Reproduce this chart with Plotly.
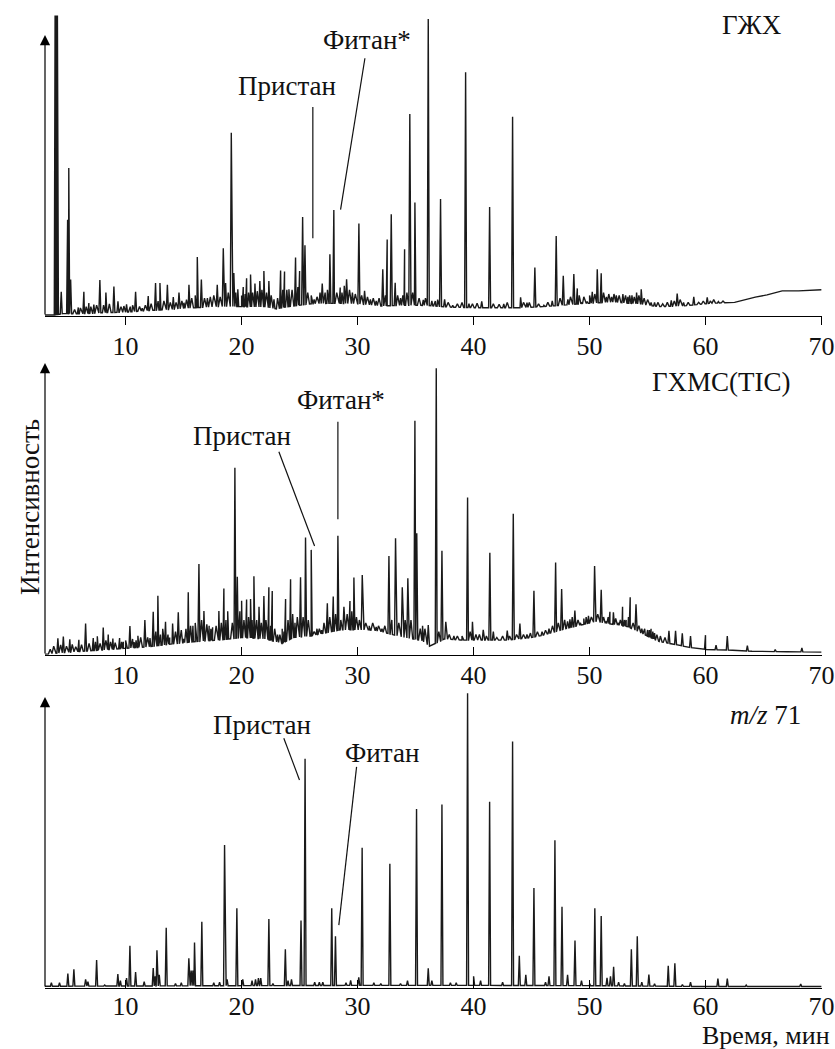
import numpy as np
import plotly.graph_objects as go

# ---------------- DATA ----------------
tick_vals = [10, 20, 30, 40, 50, 60, 70]

# Panel 1: ГЖХ  -- peak retention times (min) and apex intensities (rel. units, arrow top = 100)
p1_peak_t = [3.92, 4.02, 4.12, 4.45, 5.0, 5.1, 5.26, 5.92, 6.4, 6.83, 7.26, 7.78, 8.3, 8.99, 9.34,
             10.08, 10.86, 11.43, 11.95, 12.58, 12.96, 13.6, 14.11, 14.6, 15.03, 15.46, 16.18, 16.53,
             17.05, 17.9, 18.42, 18.62, 19.11, 19.33, 19.67, 20.14, 20.43, 20.77, 21.15, 21.57, 21.92,
             22.35, 22.79, 23.36, 23.7, 24.08, 24.65, 25.0, 25.26, 25.46, 26.25, 26.76, 26.95, 27.61,
             27.95, 28.5, 28.85, 29.05, 29.55, 30.11, 30.6, 31.1, 31.6, 32.17, 32.55, 32.9, 33.24, 33.7,
             34.05, 34.5, 34.94, 35.66, 36.09, 36.4, 37.15, 37.5, 38.2, 39.31, 39.6, 40.7, 41.38, 42.6,
             43.36, 44.05, 44.6, 45.28, 46.06, 46.78, 47.12, 47.73, 48.13, 48.64, 48.94, 49.3, 49.8,
             50.23, 50.66, 51.0, 51.45, 51.9, 52.3, 52.87, 53.3, 53.65, 54.05, 54.45, 55.3, 55.6, 57.04,
             57.55, 58.1, 58.98, 60.14, 60.4, 61.1, 64.2]
p1_peak_h = [107, 107, 107, 8.3, 34, 52.5, 12.7, 2.7, 8.3, 4.3, 3.7, 12.5, 8.0, 10.2, 4.9,
             3.8, 8.3, 2.4, 6.8, 11.4, 11.4, 10.8, 6.4, 8.0, 4.4, 10.8, 20.7, 12.7,
             6.0, 10.8, 23.8, 11.4, 65.1, 15.0, 9.2, 10.0, 13.1, 14.5, 11.2, 12.1, 15.7,
             12.1, 5.6, 15.9, 15.5, 9.2, 20.5, 15.7, 35.0, 24.9, 5.6, 8.0, 11.2, 21.7,
             37.5, 9.8, 10.4, 12.8, 8.0, 32.7, 8.6, 5.6, 5.0, 16.3, 27.0, 36.0, 11.5, 6.0,
             23.5, 71.8, 40.2, 5.4, 105.7, 5.0, 41.4, 5.6, 3.5, 86.7, 4.0, 4.9, 38.6, 4.0,
             70.8, 6.3, 4.4, 17.0, 3.5, 5.0, 28.2, 14.0, 5.6, 14.6, 9.5, 4.5, 4.8,
             8.3, 16.3, 14.9, 6.5, 6.5, 7.0, 7.5, 6.5, 7.0, 8.0, 9.2, 4.5, 4.5, 5.2,
             7.7, 4.5, 6.5, 6.3, 5.0, 4.8, 6.3]
# small unresolved peaks ("grass") of panel 1
p1_grass_t = [5.6, 6.1, 6.6, 7.0, 7.5, 8.1, 8.6, 9.6, 9.85, 10.4, 10.6, 11.2, 11.7, 12.2, 12.8, 13.3,
              13.85, 14.35, 14.85, 15.25, 15.7, 16.0, 16.8, 17.3, 17.6, 18.15, 18.85, 19.5, 20.0, 20.3,
              20.6, 20.95, 21.35, 21.75, 22.15, 22.55, 23.1, 23.55, 23.9, 24.35, 24.85, 25.7, 26.0, 26.5,
              27.2, 27.4, 28.2, 28.65, 29.3, 29.8, 30.35, 30.85, 31.35, 31.85, 32.4, 33.45, 33.9, 34.25,
              34.75, 35.3, 35.85, 36.7, 36.9, 37.8, 38.6, 39.0, 39.9, 40.3, 41.7, 42.2, 42.9, 44.3, 44.8,
              45.6, 46.4, 47.45, 48.35, 49.1, 49.5, 50.0, 50.45, 51.2, 51.65, 52.1, 52.55, 53.1, 53.45,
              53.85, 54.25, 54.7, 55.0, 55.9, 56.3, 56.7, 57.3, 57.8, 58.5, 59.4, 59.8, 60.7, 61.5]
p1_grass_h = [2.0, 2.5, 3.0, 3.0, 3.5, 3.5, 4.0, 3.0, 3.2, 3.0, 3.5, 3.0, 3.5, 4.0, 5.0, 5.0,
              4.5, 4.5, 5.0, 5.5, 6.0, 7.0, 6.0, 6.5, 7.0, 6.5, 8.0, 8.0, 7.0, 7.5,
              8.0, 8.0, 8.5, 9.0, 8.0, 7.0, 6.0, 9.0, 9.0, 9.0, 10.0, 8.0, 7.0, 6.5,
              8.0, 9.0, 8.0, 8.0, 9.0, 7.5, 7.0, 6.5, 6.0, 6.0, 7.0, 7.0, 7.0, 8.0,
              8.0, 6.0, 6.0, 5.0, 5.5, 4.5, 4.0, 4.5, 4.0, 4.2, 4.0, 3.8, 4.5, 4.5, 4.5,
              4.0, 4.5, 6.0, 6.5, 7.0, 6.5, 7.0, 7.5, 8.0, 7.5, 7.5, 7.0, 7.0, 7.0,
              6.5, 7.0, 6.0, 5.5, 4.5, 4.0, 4.5, 5.0, 5.5, 4.5, 4.5, 5.0, 5.5, 5.0]
p1_base_t = [3.05, 3.85, 4.6, 6, 8, 10, 12, 14, 16, 18, 20, 22, 23, 24, 26, 28, 30, 32, 34, 36,
             38, 40, 42, 44, 46, 48, 50, 52, 54, 56, 58, 60.5, 62.5, 63.6, 65.3, 66.6, 68, 70]
p1_base_v = [0.0, 0.0, 0.5, 0.4, 0.8, 1.0, 1.6, 2.0, 2.6, 3.0, 3.0, 2.8, 2.2, 3.0, 4.0, 4.2, 4.0, 3.2, 3.5, 3.4,
             2.8, 2.6, 2.6, 2.6, 3.0, 3.6, 4.2, 4.6, 4.0, 3.0, 3.2, 4.2, 4.5, 5.8, 7.2, 8.6, 8.6, 9.0]

# Panel 2: ГХМС(TIC)
p2_peak_t = [4.16, 4.63, 5.19, 5.97, 6.55, 7.21, 7.56, 8.07, 8.5, 8.9, 9.48, 9.8, 10.37, 10.75, 11.06,
             11.66, 12.1, 12.38, 12.78, 13.44, 13.8, 14.05, 14.54, 15.0, 15.4, 15.8, 16.32, 16.75, 17.2,
             17.5, 18.04, 18.47, 18.8, 19.42, 19.63, 20.0, 20.43, 20.77, 21.06, 21.5, 21.92, 22.35, 22.64,
             23.1, 23.5, 23.79, 24.22, 24.6, 25.08, 25.51, 26.0, 26.5, 26.9, 27.39, 27.9, 28.3, 28.82,
             29.34, 29.68, 30.4, 31.0, 31.6, 32.1, 32.7, 33.27, 33.85, 34.33, 34.94, 35.1, 35.6, 36.09,
             36.78, 37.27, 37.6, 38.3, 39.48, 39.9, 40.83, 41.4, 41.7, 42.9, 43.42, 43.99, 44.6, 45.2,
             45.9, 46.5, 47.07, 47.59, 48.3, 48.5, 48.73, 49.2, 49.9, 50.43, 51.0, 51.4, 51.75, 52.05,
             52.45, 52.84, 53.15, 53.5, 54.0, 54.5, 55.0, 55.3, 55.6, 56.84, 57.41, 57.99, 58.7, 59.99,
             60.9, 61.87, 63.6, 66.0, 68.3]
p2_peak_h = [5.7, 6.3, 5.4, 5.2, 10.8, 5.8, 6.4, 9.4, 7.0, 5.6, 5.8, 4.5, 9.9, 4.4, 6.6,
             12.0, 5.8, 14.8, 20.3, 11.4, 6.0, 10.8, 14.6, 5.5, 21.5, 10.0, 31.2, 15.1, 10.0,
             9.5, 15.1, 22.8, 15.0, 64.1, 26.8, 18.6, 19.0, 19.2, 27.0, 16.5, 20.2, 23.2, 21.9,
             7.0, 9.0, 19.2, 25.9, 11.0, 26.6, 40.2, 36.0, 9.0, 8.5, 17.7, 20.0, 40.8, 16.5,
             18.5, 26.5, 27.4, 10.0, 9.6, 9.0, 33.9, 40.0, 23.2, 26.3, 80.2, 41.7, 10.0, 10.3,
             98.2, 35.7, 11.4, 6.5, 53.9, 11.4, 8.6, 35.0, 8.0, 8.4, 48.4, 10.8, 7.0, 22.0,
             8.0, 9.0, 31.7, 22.6, 12.2, 13.0, 15.2, 11.0, 13.4, 30.5, 22.3, 11.5, 14.8, 14.6,
             11.0, 16.5, 12.0, 19.8, 17.4, 9.0, 8.6, 9.0, 7.5, 8.3, 8.3, 7.4, 6.5, 6.8,
             3.4, 6.5, 3.2, 1.9, 2.4]
p2_grass_t = [3.5, 3.8, 4.4, 4.9, 5.4, 5.7, 6.2, 6.85, 7.4, 7.8, 8.3, 8.7, 9.1, 9.65, 10.0, 10.6,
              10.9, 11.3, 11.9, 12.6, 13.0, 13.2, 13.65, 14.3, 14.8, 15.2, 15.6, 16.0, 16.55, 17.0,
              17.35, 17.8, 18.25, 18.65, 19.2, 19.85, 20.2, 20.6, 20.9, 21.3, 21.7, 22.1, 22.5, 22.85,
              23.3, 23.65, 24.0, 24.4, 24.8, 25.3, 25.75, 26.25, 26.7, 27.1, 27.6, 28.1, 28.55, 29.1,
              29.5, 29.9, 30.15, 30.7, 31.3, 31.8, 32.35, 32.95, 33.55, 34.1, 34.6, 35.4, 35.8, 37.0,
              37.9, 38.6, 39.0, 39.7, 40.2, 40.5, 41.1, 42.0, 42.5, 43.1, 43.7, 44.3, 44.9, 45.5,
              46.2, 46.8, 47.3, 47.85, 48.1, 49.0, 49.5, 49.7, 50.15, 50.7, 51.2, 51.6, 52.25, 52.65,
              53.0, 53.35, 53.75, 54.25, 54.75, 55.15, 55.45, 55.8, 56.1, 56.5]
p2_grass_h = [2.0, 3.0, 3.5, 3.0, 3.6, 2.8, 3.5, 4.0, 4.5, 4.0, 5.0, 4.5, 4.2, 4.5, 5.0, 5.5,
              5.0, 6.0, 6.0, 8.0, 7.0, 9.0, 7.0, 8.0, 8.5, 9.0, 10.0, 11.0, 12.0, 10.5,
              9.0, 10.0, 11.0, 12.0, 11.0, 15.0, 12.0, 13.0, 12.0, 12.0, 11.0, 12.0, 10.0, 9.0,
              7.0, 8.0, 12.0, 14.0, 13.0, 13.0, 12.0, 8.0, 9.0, 11.0, 13.0, 14.0, 12.0, 14.0,
              15.0, 13.0, 12.0, 11.0, 11.0, 10.0, 10.0, 12.0, 11.0, 12.0, 12.0, 9.0, 9.0, 8.0,
              7.0, 6.5, 6.5, 8.0, 7.0, 7.0, 6.5, 6.0, 6.5, 6.5, 7.0, 7.0, 7.5, 8.0,
              8.5, 10.0, 11.0, 12.0, 11.5, 12.0, 12.5, 13.0, 13.0, 14.0, 13.0, 13.0, 12.5, 12.0,
              12.0, 13.0, 11.0, 10.0, 9.0, 8.5, 8.0, 7.0, 6.5, 6.0]
p2_base_t = [3.05, 4, 6, 8, 10, 12, 14, 16, 18, 19, 20, 22, 23.5, 24.5, 26, 27, 28.5, 30, 31, 32,
             33, 34, 35.5, 36.2, 37.5, 39, 41, 43, 45, 46, 48, 49.5, 50.5, 52, 53.3, 54.8, 56, 57.5,
             58.6, 60, 62, 64, 67, 70]
p2_base_v = [0.3, 0.6, 1.2, 1.7, 2.3, 2.8, 3.8, 4.6, 5.1, 5.5, 6.0, 5.5, 4.0, 6.0, 6.5, 7.4, 8.6, 8.6, 8.6, 8.0,
             7.0, 6.0, 5.0, 3.0, 5.5, 5.1, 5.1, 5.1, 6.0, 6.8, 9.1, 10.5, 11.4, 10.5, 9.7, 6.8, 4.6, 3.5,
             2.6, 1.9, 1.7, 1.3, 1.1, 1.0]

# Panel 3: m/z 71
p3_peak_t = [3.6, 4.3, 5.02, 5.54, 6.55, 6.75, 7.5, 8.2, 9.33, 9.55, 10.08, 10.37, 10.86, 11.6, 12.38,
             12.55, 12.7, 12.9, 13.5, 14.3, 14.8, 15.45, 15.65, 15.8, 15.94, 16.57, 17.6, 18.1, 18.53,
             18.75, 19.59, 20.1, 20.9, 21.2, 21.45, 21.65, 22.35, 22.7, 23.77, 24.0, 24.3, 25.12, 25.47,
             26.3, 26.7, 27.0, 27.77, 28.09, 29.0, 29.4, 30.1, 30.39, 31.4, 32.0, 32.78, 33.7, 34.3,
             35.08, 36.09, 36.4, 37.27, 38.0, 38.5, 39.48, 40.0, 40.6, 41.38, 42.5, 43.36, 43.94, 44.5,
             45.2, 46.2, 46.5, 47.01, 47.62, 48.1, 48.74, 49.3, 50.0, 50.45, 51.0, 51.5, 51.8, 52.07,
             52.5, 53.0, 53.6, 54.11, 54.5, 55.11, 55.6, 56.78, 57.35, 58.0, 58.7, 61.06, 61.87, 63.5,
             68.2]
p3_peak_h = [1.8, 1.8, 5.0, 6.4, 3.0, 2.2, 9.6, 1.0, 4.8, 2.5, 3.4, 14.5, 5.5, 2.2, 6.9,
             4.0, 13.0, 4.5, 20.7, 1.5, 1.8, 10.2, 6.0, 6.0, 15.6, 22.8, 1.8, 2.0, 49.1,
             3.0, 27.4, 3.0, 2.5, 3.0, 3.4, 3.4, 23.7, 1.5, 13.3, 2.5, 3.0, 23.2, 78.8,
             2.0, 2.0, 2.0, 27.4, 17.8, 1.8, 2.6, 3.7, 48.2, 1.8, 1.5, 42.7, 1.5, 2.5,
             61.5, 6.8, 2.5, 63.1, 1.8, 1.8, 101.3, 4.0, 2.5, 64.0, 2.0, 84.7, 11.1, 4.5,
             34.4, 2.0, 4.0, 50.8, 27.9, 4.5, 16.3, 2.5, 1.5, 27.4, 24.7, 3.5, 4.0, 7.3,
             2.0, 1.5, 13.3, 17.8, 2.0, 4.6, 1.5, 7.6, 8.5, 1.2, 2.0, 3.2, 3.2, 1.0,
             1.4]
p3_grass_t = []
p3_grass_h = []
p3_base_t = [3.05, 20, 30, 40, 50, 60, 70]
p3_base_v = [0.6, 0.8, 0.9, 0.9, 0.8, 0.5, 0.5]

# ---------------- LAYOUT GEOMETRY ----------------
W, H = 835, 1049
FONT = "Liberation Serif"
FS = 27        # labels
FS_TICK = 26   # tick labels
X_RANGE = [3.05, 70.0]
X_DOM = [45 / W, 821.6 / W]
PEAK_HW = 0.085   # half width of a resolved peak (min) - drawing style
GRASS_HW = 0.15   # half width of an unresolved small peak (min) - drawing style


def py(v):
    return 1 - v / H


panels_geo = [
    dict(axis=316, top=10, ppu=2.8, vmin=-1 / 2.8, ticks="outside", standoff=-1),
    dict(axis=655, top=355, ppu=2.92, vmin=0.0, ticks="inside", standoff=-3),
    dict(axis=988, top=685, ppu=2.91, vmin=0.0, ticks="inside", standoff=-5),
]


def build_trace(pt, ph, gt, gh, bt, bv):
    xs = list(bt)
    ys = list(bv)
    for tt, hh, hw in ((pt, ph, PEAK_HW), (gt, gh, GRASS_HW)):
        for t, h in zip(tt, hh):
            xs += [t - hw, t, t + hw]
            ys += [float(np.interp(t - hw, bt, bv)), h, float(np.interp(t + hw, bt, bv))]
    order = np.argsort(np.array(xs), kind="stable")
    return np.array(xs)[order], np.array(ys)[order]


data = [
    (p1_peak_t, p1_peak_h, p1_grass_t, p1_grass_h, p1_base_t, p1_base_v),
    (p2_peak_t, p2_peak_h, p2_grass_t, p2_grass_h, p2_base_t, p2_base_v),
    (p3_peak_t, p3_peak_h, p3_grass_t, p3_grass_h, p3_base_t, p3_base_v),
]

fig = go.Figure()
for i, d in enumerate(data):
    sx = "" if i == 0 else str(i + 1)
    x, y = build_trace(*d)
    fig.add_trace(go.Scatter(x=x, y=y, mode="lines", line=dict(color="#1a1a1a", width=1.4),
                             xaxis="x" + sx, yaxis="y" + sx, hoverinfo="skip", showlegend=False))

layout = dict(width=W, height=H, autosize=False, margin=dict(l=0, r=0, t=0, b=0, pad=0),
              paper_bgcolor="white", plot_bgcolor="white", showlegend=False)
annotations = []
shapes = []
for i, g in enumerate(panels_geo):
    sx = "" if i == 0 else str(i + 1)
    vmax = g["vmin"] + (g["axis"] - g["top"]) / g["ppu"]
    layout["xaxis" + sx] = dict(domain=X_DOM, range=X_RANGE, anchor="y" + sx, tickvals=tick_vals,
                                ticks=g["ticks"], ticklen=8, tickwidth=1.2, tickcolor="black",
                                showline=True, linecolor="black", linewidth=1.2, showgrid=False,
                                zeroline=False, ticklabelstandoff=g["standoff"], automargin=False,
                                ticklabeloverflow="allow",
                                tickfont=dict(family=FONT, size=FS_TICK, color="#111"))
    layout["yaxis" + sx] = dict(domain=[py(g["axis"]), py(g["top"])], range=[g["vmin"], vmax],
                                anchor="x" + sx, showticklabels=False, showgrid=False, zeroline=False,
                                showline=False, ticks="", automargin=False)
    annotations.append(dict(x=X_RANGE[0], y=100, ax=X_RANGE[0], ay=g["vmin"], xref="x" + sx, yref="y" + sx,
                            axref="x" + sx, ayref="y" + sx, showarrow=True, arrowhead=2, arrowsize=1.7,
                            arrowwidth=1.2, arrowcolor="black", text=""))


def label(text, t, v, sx):
    annotations.append(dict(x=t, y=v, xref="x" + sx, yref="y" + sx, text=text, showarrow=False,
                            xanchor="center", yanchor="middle",
                            font=dict(family=FONT, size=FS, color="#111")))


def leader(t0, v0, t1, v1, sx):
    shapes.append(dict(type="line", x0=t0, y0=v0, x1=t1, y1=v1, xref="x" + sx, yref="y" + sx,
                       line=dict(color="#111", width=1.2)))


# Panel 1
label("Пристан", 23.88, 81.8, "")
leader(26.14, 74.3, 26.14, 27.4, "")
label("Фитан*", 30.77, 98.2, "")
leader(30.63, 91.7, 28.53, 37.6, "")
label("ГЖХ", 63.96, 103.6, "")
# Panel 2
label("Фитан*", 28.53, 87.3, "2")
leader(28.3, 79.9, 28.3, 46.5, "2")
label("Пристан", 20.0, 75.0, "2")
leader(23.21, 69.6, 26.29, 37.3, "2")
label("ГХМС(TIC)", 61.38, 93.6, "2")
# Panel 3
label("Пристан", 21.72, 90.4, "3")
leader(23.64, 85.8, 24.99, 71.5, "3")
label("Фитан", 32.07, 80.8, "3")
leader(29.91, 76.0, 28.38, 21.6, "3")
label("<i>m/z</i> 71", 65.17, 93.8, "3")

annotations.append(dict(x=30 / W, y=py(507), xref="paper", yref="paper", text="Интенсивность",
                        textangle=-90, showarrow=False, xanchor="center", yanchor="middle",
                        font=dict(family=FONT, size=FS, color="#111")))
annotations.append(dict(x=831 / W, y=py(1051), xref="paper", yref="paper", text="Время, мин",
                        xanchor="right", yanchor="bottom", showarrow=False, borderpad=0,
                        font=dict(family=FONT, size=26, color="#111")))

layout["annotations"] = annotations
layout["shapes"] = shapes
fig.update_layout(**layout)

POST = ("document.body.style.margin='0';document.body.style.padding='0';"
        "document.documentElement.style.overflow='hidden';document.body.style.overflow='hidden';"
        "var gd=document.getElementById('{plot_id}');gd.style.width='835px';gd.style.height='1049px';"
        "Plotly.relayout(gd,{width:835,height:1049});")
fig.write_html("out.html", config={"responsive": False, "displayModeBar": False}, post_script=POST)
